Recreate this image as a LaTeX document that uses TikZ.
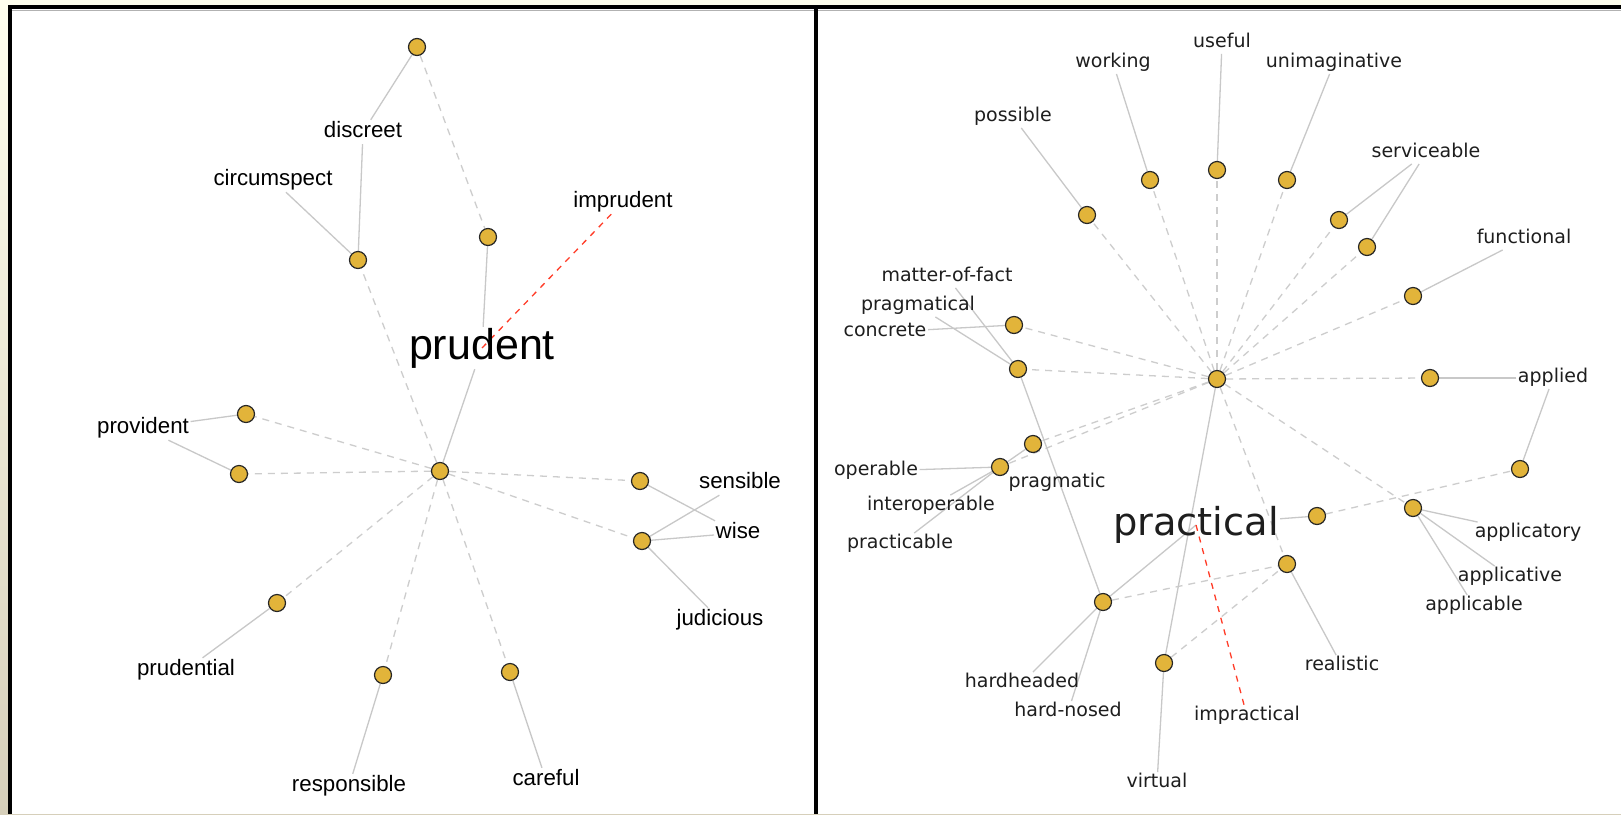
\documentclass[tikz,border=0pt]{standalone}
\usepackage{fontspec}
\newfontfamily\leftfont{Liberation Sans}
\newfontfamily\rightfont{DejaVu Sans}
\pgfdeclarelayer{bg}
\pgfsetlayers{bg,main}
\definecolor{gold}{RGB}{226,180,58}
\definecolor{edgegray}{RGB}{200,200,200}
\definecolor{dashgray}{RGB}{205,205,205}
\definecolor{cream}{RGB}{255,255,238}
\definecolor{beige}{RGB}{214,207,186}
\definecolor{redline}{RGB}{255,60,40}
\definecolor{rtext}{RGB}{30,30,30}
\tikzset{
  dot/.style={circle, fill=gold, draw=black!85, line width=1.2pt, minimum size=17pt, inner sep=0pt},
  lw/.style={font=\leftfont\fontsize{22.3}{26}\selectfont, text=black, inner sep=1.5pt, text height=16pt, text depth=5pt},
  lbig/.style={font=\leftfont\fontsize{43}{50}\selectfont, text=black, inner sep=1pt, text height=31pt, text depth=9pt},
  rw/.style={font=\rightfont\fontsize{19}{23}\selectfont, text=rtext, inner sep=1.5pt, text height=14pt, text depth=4.5pt},
  rbig/.style={font=\rightfont\fontsize{38.4}{45}\selectfont, text=rtext, inner sep=1pt, text height=28pt, text depth=8pt},
  solidedge/.style={draw=edgegray, line width=1.3pt},
  dashedge/.style={draw=dashgray, line width=1.3pt, dash pattern=on 7pt off 6pt},
  rededge/.style={draw=redline, line width=1.3pt, dash pattern=on 6pt off 6pt},
  panelline/.style={draw=black, line width=4pt}
}
\begin{document}
\begin{tikzpicture}[x=1pt,y=-1pt]
\useasboundingbox (0,0) rectangle (1621,814);
% ---------- left panel nodes ----------
\node[dot] (L0) at (440,471) {};
\node[dot] (Ltop) at (417,47) {};
\node[dot] (Ljun) at (358,260) {};
\node[dot] (Lup) at (488,237) {};
\node[dot] (Lprov1) at (246,414) {};
\node[dot] (Lprov2) at (239,474) {};
\node[dot] (Lsens) at (640,481) {};
\node[dot] (Lwise) at (642,541) {};
\node[dot] (Lprud) at (277,603) {};
\node[dot] (Lresp) at (383,675) {};
\node[dot] (Lcare) at (510,672) {};
\node[lbig] (tprudent) at (482,348) {prudent};
\node[lw] (tdiscreet) at (363,132) {discreet};
\node[lw] (tcircum) at (273,180) {circumspect};
\node[lw] (timprudent) at (623,202) {imprudent};
\node[lw] (tprovident) at (143,428) {provident};
\node[lw] (tsensible) at (740,483) {sensible};
\node[lw] (twise) at (738,533) {wise};
\node[lw] (tjudicious) at (720,620) {judicious};
\node[lw] (tprudential) at (186,670) {prudential};
\node[lw] (tresponsible) at (349,786) {responsible};
\node[lw] (tcareful) at (546,780) {careful};
% ---------- right panel nodes ----------
\node[dot] (R0) at (1217,379) {};
\node[dot] (Ruse) at (1217,170) {};
\node[dot] (Rwork) at (1150,180) {};
\node[dot] (Runim) at (1287,180) {};
\node[dot] (Rposs) at (1087,215) {};
\node[dot] (Rserv1) at (1339,220) {};
\node[dot] (Rserv2) at (1367,247) {};
\node[dot] (Rfunc) at (1413,296) {};
\node[dot] (Rconc) at (1014,325) {};
\node[dot] (Rpragl) at (1018,369) {};
\node[dot] (Rprag) at (1033,444) {};
\node[dot] (Roper) at (1000,467) {};
\node[dot] (Rappl) at (1430,378) {};
\node[dot] (RB) at (1520,469) {};
\node[dot] (RA) at (1317,516) {};
\node[dot] (Rapcy) at (1413,508) {};
\node[dot] (Rreal) at (1287,564) {};
\node[dot] (Rhard) at (1103,602) {};
\node[dot] (Rvirt) at (1164,663) {};
\node[rbig] (tpractical) at (1196,525) {practical};
\node[rw] (tuseful) at (1222,43) {useful};
\node[rw] (tworking) at (1113,63) {working};
\node[rw] (tunim) at (1334,63) {unimaginative};
\node[rw] (tpossible) at (1013,117) {possible};
\node[rw] (tservice) at (1426,153) {serviceable};
\node[rw] (tfunctional) at (1524,239) {functional};
\node[rw] (tmatter) at (947,277) {matter-of-fact};
\node[rw] (tpragmatical) at (918,306) {pragmatical};
\node[rw] (tconcrete) at (885,332) {concrete};
\node[rw] (tapplied) at (1553,378) {applied};
\node[rw] (toperable) at (876,471) {operable};
\node[rw] (tpragmatic) at (1057,483) {pragmatic};
\node[rw] (tinterop) at (931,506) {interoperable};
\node[rw] (tpracticable) at (900,544) {practicable};
\node[rw] (tapplicatory) at (1528,533) {applicatory};
\node[rw] (tapplicative) at (1510,577) {applicative};
\node[rw] (tapplicable) at (1474,606) {applicable};
\node[rw] (trealistic) at (1342,666) {realistic};
\node[rw] (thardheaded) at (1022,683) {hardheaded};
\node[rw] (thardnosed) at (1068,712) {hard-nosed};
\node[rw] (timpractical) at (1247,716) {impractical};
\node[rw] (tvirtual) at (1157,783) {virtual};
\begin{pgfonlayer}{bg}
% background and frame
\shade[top color=cream, bottom color=beige] (0,0) rectangle (1621,814);
\fill[white] (10,7) rectangle (1621,814);
\draw[black!30, line width=1pt] (12,10) -- (1621,10);
\draw[panelline] (8,7) -- (1621,7);
\draw[panelline] (10,7) -- (10,814);
\draw[panelline] (816,7) -- (816,814);
% left dashed
\foreach \n in {Ljun,Lprov1,Lprov2,Lsens,Lwise,Lprud,Lresp,Lcare}
  \draw[dashedge] (L0) -- (\n);
\draw[dashedge] (Ltop) -- (Lup);
% left solid
\draw[solidedge] (tdiscreet) -- (Ltop);
\draw[solidedge] (tdiscreet) -- (Ljun);
\draw[solidedge] (tcircum) -- (Ljun);
\draw[solidedge] (Lup) -- (tprudent);
\draw[solidedge] (tprudent) -- (L0);
\draw[solidedge] (tprovident) -- (Lprov1);
\draw[solidedge] (tprovident) -- (Lprov2);
\draw[solidedge] (Lsens) -- (twise);
\draw[solidedge] (Lwise) -- (tsensible);
\draw[solidedge] (Lwise) -- (twise);
\draw[solidedge] (Lwise) -- (tjudicious);
\draw[solidedge] (Lprud) -- (tprudential);
\draw[solidedge] (Lresp) -- (tresponsible);
\draw[solidedge] (Lcare) -- (tcareful);
\draw[rededge] (tprudent.center) -- (timprudent);
% right dashed
\foreach \n in {Ruse,Rwork,Rposs,Runim,Rserv1,Rserv2,Rfunc,Rappl,Rconc,Rpragl,Rprag,Roper,Rreal,Rapcy}
  \draw[dashedge] (R0) -- (\n);
\draw[dashedge] (RA) -- (RB);
\draw[dashedge] (Rhard) -- (Rreal);
\draw[dashedge] (Rvirt) -- (Rreal);
% right solid
\draw[solidedge] (tuseful) -- (Ruse);
\draw[solidedge] (tworking) -- (Rwork);
\draw[solidedge] (tunim) -- (Runim);
\draw[solidedge] (tpossible) -- (Rposs);
\draw[solidedge] (tservice) -- (Rserv1);
\draw[solidedge] (tservice) -- (Rserv2);
\draw[solidedge] (tfunctional) -- (Rfunc);
\draw[solidedge] (tconcrete) -- (Rconc);
\draw[solidedge] (tmatter) -- (Rpragl);
\draw[solidedge] (tpragmatical) -- (Rpragl);
\draw[solidedge] (Rpragl) -- (Rhard);
\draw[solidedge] (Roper) -- (Rprag);
\draw[solidedge] (toperable) -- (Roper);
\draw[solidedge] (tinterop) -- (Roper);
\draw[solidedge] (tpracticable) -- (Roper);
\draw[solidedge] (tapplied) -- (Rappl);
\draw[solidedge] (tapplied) -- (RB);
\draw[solidedge] (Rapcy) -- (tapplicatory);
\draw[solidedge] (Rapcy) -- (tapplicative);
\draw[solidedge] (Rapcy) -- (tapplicable);
\draw[solidedge] (Rreal) -- (trealistic);
\draw[solidedge] (Rhard) -- (thardheaded);
\draw[solidedge] (Rhard) -- (thardnosed);
\draw[solidedge] (Rvirt) -- (tvirtual);
\draw[solidedge] (R0) -- (Rvirt);
\draw[solidedge] (tpractical) -- (RA);
\draw[solidedge] (tpractical.center) -- (Rhard);
\draw[rededge] (tpractical.center) -- (timpractical);
\end{pgfonlayer}
\end{tikzpicture}
\end{document}
